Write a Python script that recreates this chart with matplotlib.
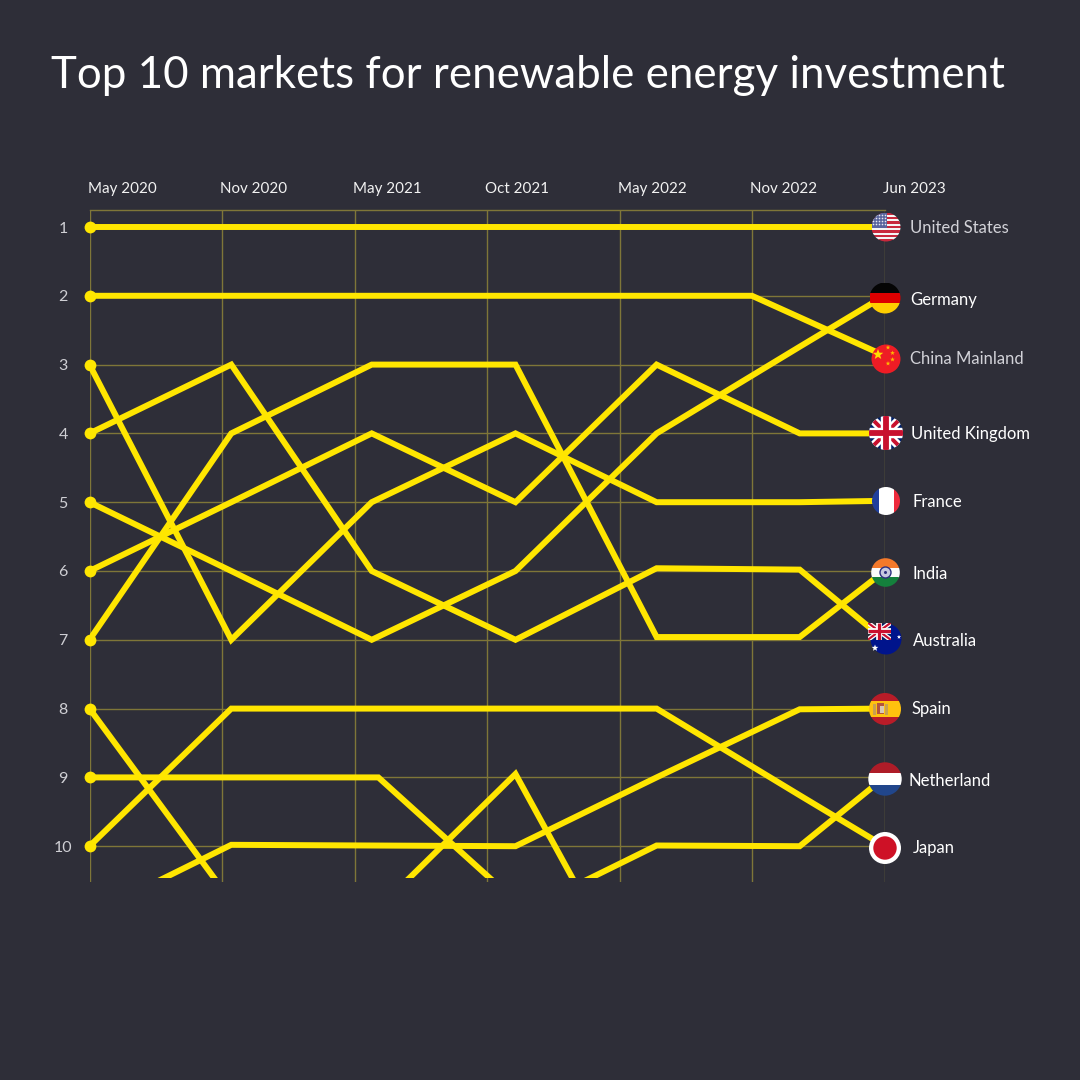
import numpy as np
import matplotlib
matplotlib.use("Agg")
import matplotlib.pyplot as plt
from matplotlib.patches import Circle, Rectangle, Polygon

BG = "#2E2E38"
YELLOW = "#FFE600"
GRID = "#7F7638"
plt.rcParams["font.family"] = ["Lato", "DejaVu Sans"]

periods = ["May 2020", "Nov 2020", "May 2021", "Oct 2021", "May 2022", "Nov 2022", "Jun 2023"]
ranks = [1, 2, 3, 4, 5, 6, 7, 8, 9, 10]
knots = [0, 1.07, 2.13, 3.215, 4.28, 5.36, 6]
knots_b = [0, 1.07, 2.18, 3.215, 4.28, 5.36, 6]
knots_china = [0, 1.07, 2.13, 3.215, 4.28, 5.0, 6]
nan = float("nan")

united_states = [1, 1, 1, 1, 1, 1, 1]
china = [2, 2, 2, 2, 2, 2, 2.87]
france = [3, 7, 5, 4, 5, 5, 4.98]
australia = [4, 3, 6, 7, 5.96, 5.98, 7]
germany = [5, 6, 7, 6, 4, 2.74, 2]
uk = [6, 5, 4, 5, 3, 4, 4]
india = [7, 4, 3, 3, 6.96, 6.96, 6]
market_a = [8, 10.8, nan, nan, nan, nan, nan]
market_b = [9, 9, 9, 10.8, nan, nan, nan]
japan = [10, 8, 8, 8, 8, 9.26, 10]
spain = [11, 9.98, 9.99, 10, 9, 8.01, 8]
market_c = [nan, nan, 11, 8.95, 12.7, nan, nan]
netherland = [nan, nan, nan, 11, 9.99, 10, 9]
series = [united_states, france, australia, germany, uk, india,
          market_a, japan, spain, market_c, netherland]

start_ranks = ranks
end_labels = ["United States", "Germany", "China Mainland", "United Kingdom", "France",
              "India", "Australia", "Spain", "Netherland", "Japan"]
label_colors = ["#D2D2D8", "white", "#D2D2D8", "white", "white",
                "white", "white", "white", "white", "white"]
label_x = [910, 910, 910, 911, 912, 912, 913, 912, 908, 913]
label_y = [228, 300, 359, 434, 502, 574, 641, 709, 781, 848]

W = 1080
fig = plt.figure(figsize=(10.8, 10.8), dpi=100, facecolor=BG)
ax = fig.add_axes([89.5 / W, 1 - 882 / W, 795 / W, 672 / W], facecolor=BG)
ax.set_xlim(0, 6)
ax.set_ylim((882 - 227) / 68.8 + 1, (210 - 227) / 68.8 + 1)
ax.set_xticks(range(7))
ax.set_xticklabels([])
ax.set_yticks(ranks)
ax.set_yticklabels(ranks)
ax.grid(True, color=GRID, lw=1)
ax.set_axisbelow(True)
for s in ["bottom", "right", "left"]:
    ax.spines[s].set_visible(False)
ax.spines["top"].set_color(GRID)
ax.spines["top"].set_linewidth(1)
ax.tick_params(axis="both", length=0)
ax.tick_params(axis="y", pad=19, labelsize=11.5, labelcolor="#CFCFD4")
for t in ax.get_yticklabels():
    t.set_ha("center")

clip_bottom = (878 - 227) / 68.8 + 1
clip = Rectangle((0, ax.get_ylim()[1]), 6, clip_bottom - ax.get_ylim()[1], transform=ax.transData)
for xs, v in [(knots, s) for s in series] + [(knots_b, market_b), (knots_china, china)]:
    ln, = ax.plot(xs, v, color=YELLOW, lw=4.3, solid_joinstyle="miter", solid_capstyle="butt")
    ln.set_clip_path(clip)
ax.plot([0] * len(start_ranks), start_ranks, "o", color=YELLOW, ms=8.5, mew=0, clip_on=False, zorder=5)

for i, p in enumerate(periods):
    ax.text(i - 1.5 / 132.5, (882 - 189) / 672, p, transform=ax.get_xaxis_transform(),
            ha="left", va="center", color="#F2F2F2", fontsize=10.9, clip_on=False)

fig.text(51 / W, 1 - 75 / W, "Top 10 markets for renewable energy investment",
         color="white", fontsize=31.6, va="center", ha="left")

for name, c, x, y in zip(end_labels, label_colors, label_x, label_y):
    fig.text(x / W, 1 - y / W, name, color=c, fontsize=12, va="center", ha="left")

# ----- round flags, drawn on a pixel overlay -----
ov = fig.add_axes([0, 0, 1, 1], facecolor="none")
ov.set_xlim(0, W)
ov.set_ylim(W, 0)
ov.axis("off")


def disc(cx, cy, r):
    return Circle((cx, cy), r, transform=ov.transData)


def bands(cx, cy, r, colors):
    h = 2 * r / len(colors)
    for i, c in enumerate(colors):
        p = Rectangle((cx - r, cy - r + i * h), 2 * r, h + 0.3, fc=c, ec="none")
        ov.add_patch(p)
        p.set_clip_path(disc(cx, cy, r))


def star(cx, cy, size, color):
    a = np.arange(10) * np.pi / 5 - np.pi / 2
    rad = np.where(np.arange(10) % 2 == 0, size, size * 0.42)
    ov.add_patch(Polygon(np.c_[cx + rad * np.cos(a), cy + rad * np.sin(a)], fc=color, ec="none"))


def union_jack(x0, y0, x1, y1, clipper, scale=1.0):
    box = Rectangle((x0, y0), x1 - x0, y1 - y0, transform=ov.transData)
    mx, my = (x0 + x1) / 2, (y0 + y1) / 2
    ov.add_patch(Rectangle((x0, y0), x1 - x0, y1 - y0, fc="#012169", ec="none")).set_clip_path(clipper)
    items = [(((x0, y0), (x1, y1)), "white", 6.2), (((x0, y1), (x1, y0)), "white", 6.2),
             (((x0, y0), (x1, y1)), "#C8102E", 2.8), (((x0, y1), (x1, y0)), "#C8102E", 2.8),
             (((mx, y0), (mx, y1)), "white", 7.5), (((x0, my), (x1, my)), "white", 7.5),
             (((mx, y0), (mx, y1)), "#C8102E", 4.2), (((x0, my), (x1, my)), "#C8102E", 4.2)]
    for (a, b), col, lw in items:
        l, = ov.plot([a[0], b[0]], [a[1], b[1]], color=col, lw=lw * scale, solid_capstyle="butt")
        l.set_clip_path(box if scale < 1 else clipper)


# United States
cx, cy, r = 886, 227, 14.5
bands(cx, cy, r, ["#C8283C", "#F4F4F4"] * 6 + ["#C8283C"])
p = Rectangle((cx - r, cy - r), r + 1, r + 0.5, fc="#5A659E", ec="none")
ov.add_patch(p)
p.set_clip_path(disc(cx, cy, r))
for yy in np.arange(cy - r + 3, cy, 3):
    for xx in np.arange(cx - r + 2, cx + 1, 3):
        d = ov.add_patch(Circle((xx, yy), 0.8, fc="#E8E8F0", ec="none"))
        d.set_clip_path(disc(cx, cy, r))

# Germany
bands(885, 298, 15.5, ["#050505", "#DD0000", "#FFCE00"])

# China mainland
cx, cy, r = 886, 359, 14.5
ov.add_patch(Circle((cx, cy), r, fc="#EE1C25", ec="none"))
star(878, 354.5, 5.5, "#FFDE00")
for sx, sy in [(888, 347.5), (892.5, 353), (892.5, 359.5), (888, 363.5)]:
    star(sx, sy, 2.4, "#FFB800")

# United Kingdom
cx, cy, r = 886, 433, 17
union_jack(cx - r, cy - r, cx + r, cy + r, disc(cx, cy, r))

# France (narrow outer bands)
cx, cy, r = 886, 501, 14
for x0, wd, col in [(872, 7, "#1F3F9C"), (879, 15, "white"), (894, 7, "#EE2A3C")]:
    p = Rectangle((x0, cy - r), wd + 0.3, 2 * r, fc=col, ec="none")
    ov.add_patch(p)
    p.set_clip_path(disc(cx, cy, r))

# India
cx, cy, r = 885.5, 572.5, 14.3
bands(cx, cy, r, ["#F4792B", "#FBFBFB", "#14803C"])
ov.add_patch(Circle((cx, cy), 5.5, fc="#C6C8E0", ec="#2C2F80", lw=1))
ov.add_patch(Circle((cx, cy), 1.5, fc="#2C2F80", ec="none"))

# Australia
cx, cy, r = 886, 639, 15.5
c = disc(cx, cy, r)
ov.add_patch(Circle((cx, cy), r, fc="#00148C", ec="none"))
union_jack(cx - r - 3, cy - r - 1, cx + 5, cy + 1, c, scale=0.55)
star(875, 648, 3.5, "white")
star(899, 637, 2.2, "white")

# Spain
cx, cy, r = 885, 709, 16
bands(cx, cy, r, ["#B81C28", "#FFC20E", "#FFC20E", "#B81C28"])
ov.add_patch(Rectangle((cx - 12, cy - 5.5), 3, 11, fc="#C9A050", ec="none"))
ov.add_patch(Rectangle((cx - 8, cy - 6), 7, 11, fc="#B5533C", ec="none"))
ov.add_patch(Rectangle((cx - 5, cy - 3), 4, 7, fc="#D9C8B4", ec="none"))
ov.add_patch(Rectangle((cx, cy - 5.5), 3, 11, fc="#C9A050", ec="none"))

# Netherland
bands(885, 779, 16.7, ["#AE1C28", "#FFFFFF", "#21468B"])

# Japan
ov.add_patch(Circle((885, 848), 16, fc="white", ec="none"))
ov.add_patch(Circle((885, 848), 11.7, fc="#CE1126", ec="none"))

fig.savefig("out.png", dpi=100, facecolor=BG)
